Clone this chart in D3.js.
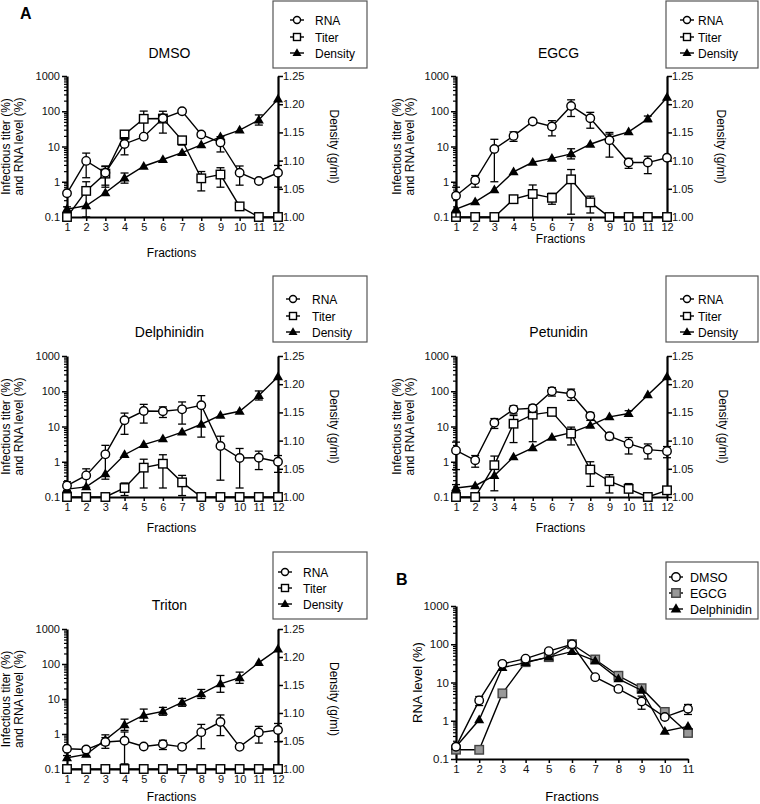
<!DOCTYPE html>
<html><head><meta charset="utf-8">
<script src="https://cdn.jsdelivr.net/npm/d3@7"></script>
<style>
body{margin:0;background:#fff;}
svg{display:block;font-family:"Liberation Sans",Arial,sans-serif;}
</style></head>
<body>
<svg id="chart" width="760" height="804"></svg>
<script>
// ---------- DATA ----------
const fractionsA = [1,2,3,4,5,6,7,8,9,10,11,12];
const fractionsB = [1,2,3,4,5,6,7,8,9,10,11];
const logTicks = [0.1,1,10,100,1000];
const densityTicks = [1.00,1.05,1.10,1.15,1.20,1.25];
const seriesNamesA = ["RNA","Titer","Density"];
const seriesNamesB = ["DMSO","EGCG","Delphinidin"];

const dmsoRNA      = [0.47,3.9,1.8,11.8,19,63,100,22,13,1.8,1.05,1.8];
const dmsoRNAErr   = [0,2.6,1.0,6,0,0,0,3,6,1,0,1.1];
const dmsoTiter    = [0.1,0.55,1.7,22,61,62,15,1.25,1.6,0.2,0.1,0.1];
const dmsoTiterErr = [0,0.45,1.0,6,40,38,4,0.7,0.9,0,0,0];
const dmsoDens     = [1.014,1.020,1.043,1.069,1.090,1.102,1.114,1.128,1.142,1.154,1.172,1.209];
const dmsoDensErr  = [0.004,0,0,0.009,0,0,0,0,0,0,0.009,0];

const egcgRNA      = [0.40,1.1,8.5,20,51,37,141,63,15,3.5,3.5,4.8];
const egcgRNAErr   = [0.3,0.4,7.5,6,0,17,70,30,10,1.1,1.8,0];
const egcgTiter    = [0.1,0.1,0.1,0.32,0.45,0.35,1.17,0.26,0.1,0.1,0.1,0.1];
const egcgTiterErr = [0,0,0,0.06,0.36,0.12,1.05,0.13,0,0,0,0];
const egcgDens     = [1.014,1.027,1.048,1.080,1.097,1.104,1.112,1.129,1.141,1.151,1.174,1.212];
const egcgDensErr  = [0,0,0,0,0,0,0.009,0,0.006,0,0.005,0];

const delphRNA      = [0.21,0.41,1.62,15,27.5,27,30.7,40,2.8,1.28,1.3,1.0];
const delphRNAErr   = [0.06,0.22,1.3,9,15,9,19,35,2.5,1.1,0.7,0.5];
const delphTiter    = [0.1,0.1,0.1,0.18,0.68,0.88,0.26,0.1,0.1,0.1,0.1,0.1];
const delphTiterErr = [0,0,0,0.07,0.5,0.7,0.15,0,0,0,0,0];
const delphDens     = [1.014,1.018,1.041,1.075,1.093,1.103,1.115,1.129,1.145,1.152,1.180,1.213];
const delphDensErr  = [0.005,0,0,0,0,0,0,0,0,0,0.008,0];

const petRNA      = [2.1,1.1,12.8,30.7,33,100,85,19.9,5.3,3.26,2.2,2.0];
const petRNAErr   = [1.5,0.4,4,8,8,27,30,5,1.1,1.6,1.0,0.7];
const petTiter    = [0.1,0.1,0.8,12,21.7,26,6.3,0.6,0.28,0.17,0.1,0.155];
const petTiterErr = [0,0,0.65,8.5,18,0,3.3,0.4,0.15,0.07,0,0.03];
const petDens     = [1.016,1.020,1.038,1.071,1.087,1.106,1.114,1.127,1.142,1.148,1.181,1.213];
const petDensErr  = [0.006,0,0,0,0,0,0.006,0,0,0.005,0,0];

const tritonRNA      = [0.38,0.36,0.59,0.64,0.44,0.51,0.43,1.13,2.2,0.43,1.1,1.3];
const tritonRNAErr   = [0.03,0.06,0.2,0.5,0,0.15,0,0.75,1.3,0,0.55,0.7];
const tritonTiter    = [0.1,0.1,0.1,0.1,0.1,0.1,0.1,0.1,0.1,0.1,0.1,0.1];
const tritonTiterErr = [0,0,0,0,0,0,0,0,0,0,0,0];
const tritonDens     = [1.020,1.026,1.052,1.079,1.096,1.103,1.119,1.134,1.152,1.163,1.190,1.214];
const tritonDensErr  = [0.004,0.003,0.009,0.01,0.011,0.007,0.007,0.008,0.015,0.01,0,0];

const bDMSO     = [0.21,3.4,30.7,42,66,100,13.8,6.8,3.2,1.25,2.06];
const bDMSOErr  = [0.03,0.9,0,0,8,0,0,0,1.2,0,0.6];
const bEGCG     = [0.175,0.174,5.2,34,46,100,40,15,7.1,1.7,0.48];
const bEGCGErr  = [0,0,0,0,0,0,0,0,0,0,0];
const bDelph    = [0.21,1.06,24.6,33,46,64,37,12.5,6.2,0.53,0.71];
const bDelphErr = [0,0,0,0,0,0,0,0,0,0,0];

// ---------- DRAW ----------
const svg = d3.select("#chart");
const FONT = "'Liberation Sans', Arial, sans-serif";

function marker(g, type, x, y, size, fill){
  if(type==="circle"){
    g.append("circle").attr("cx",x).attr("cy",y).attr("r",size/2)
      .attr("fill",fill).attr("stroke","#000").attr("stroke-width",1.4);
  } else if(type==="square"){
    g.append("rect").attr("x",x-size/2).attr("y",y-size/2).attr("width",size).attr("height",size)
      .attr("fill",fill).attr("stroke",fill==="#999"?"#444":"#000").attr("stroke-width",1.4);
  } else {
    const s=size*1.1;
    g.append("path").attr("d",d3.symbol().type(d3.symbolTriangle).size(s*s*0.45)())
      .attr("transform",`translate(${x},${y+0.5})`).attr("fill","#000");
  }
}

function drawSeries(g, xs, vals, errs, xScale, yScale, type, fill, yMin){
  xs.forEach((f,i)=>{
    const e=errs[i]; if(!e) return;
    const hi=vals[i]+e, lo=Math.max(vals[i]-e, yMin);
    const x=xScale(f);
    g.append("line").attr("x1",x).attr("x2",x).attr("y1",yScale(hi)).attr("y2",yScale(lo))
      .attr("stroke","#000").attr("stroke-width",1.3);
    [hi, (vals[i]-e>yMin? lo:null)].forEach(v=>{ if(v===null) return;
      g.append("line").attr("x1",x-4).attr("x2",x+4).attr("y1",yScale(v)).attr("y2",yScale(v))
        .attr("stroke","#000").attr("stroke-width",1.3);});
  });
  const line=d3.line().x((d,i)=>xScale(xs[i])).y(d=>yScale(d));
  g.append("path").attr("d",line(vals)).attr("fill","none").attr("stroke","#000").attr("stroke-width",1.4);
  xs.forEach((f,i)=>marker(g,type,xScale(f),yScale(vals[i]),type==="triangle"?9:8.5,fill));
}

function legend(x0,y0,w,h,items,ys,mOff,tOff,fs,ms){
  const g=svg.append("g");
  g.append("rect").attr("x",x0).attr("y",y0).attr("width",w).attr("height",h)
    .attr("fill","#fff").attr("stroke","#555").attr("stroke-width",1.2);
  items.forEach((it,i)=>{
    const y=ys[i];
    g.append("line").attr("x1",x0+mOff-7).attr("x2",x0+mOff+7).attr("y1",y).attr("y2",y)
      .attr("stroke","#000").attr("stroke-width",1.4);
    marker(g,it.type,x0+mOff,y,it.type==="triangle"?ms+1:ms,it.fill);
    g.append("text").attr("x",x0+tOff).attr("y",y+4.5).text(it.name)
      .attr("font-size",fs).attr("font-family",FONT);
  });
}

function fmtLog(d){ return d===0.1?"0.1":String(d); }

function panelA(cfg){
  const g=svg.append("g");
  const x=d3.scaleLinear().domain([1,12]).range([cfg.left,cfg.right]);
  const y=d3.scaleLog().domain([0.1,1000]).range([cfg.bottom,cfg.top]);
  const yd=d3.scaleLinear().domain([1.00,1.25]).range([cfg.bottom,cfg.top]);

  const minors=[];
  [0.1,1,10,100].forEach(b=>{for(let k=2;k<10;k++)minors.push(b*k);});
  g.append("g").attr("transform",`translate(${cfg.left},0)`)
    .call(d3.axisLeft(y).tickValues(minors).tickSize(3).tickFormat(""))
    .call(s=>s.select(".domain").remove())
    .call(s=>s.selectAll("line").attr("stroke-width",1.2));
  const la=g.append("g").attr("transform",`translate(${cfg.left},0)`)
    .call(d3.axisLeft(y).tickValues(logTicks).tickSize(5).tickSizeOuter(0).tickFormat(fmtLog));
  la.select(".domain").attr("stroke-width",2.2);
  la.selectAll("line").attr("stroke-width",1.5);
  la.selectAll("text").attr("font-size",11).attr("font-family",FONT).attr("dx","1").attr("fill","#111");

  const ra=g.append("g").attr("transform",`translate(${cfg.right},0)`)
    .call(d3.axisRight(yd).tickValues(densityTicks).tickSize(5).tickSizeOuter(0).tickFormat(d3.format(".2f")));
  ra.select(".domain").attr("stroke-width",2.2);
  ra.selectAll("line").attr("stroke-width",1.5);
  ra.selectAll("text").attr("font-size",11).attr("font-family",FONT).attr("dx","-3").attr("fill","#111");

  const xa=g.append("g").attr("transform",`translate(0,${cfg.bottom})`)
    .call(d3.axisBottom(x).tickValues(fractionsA).tickSize(4).tickSizeOuter(0).tickFormat(d3.format("d")));
  xa.select(".domain").attr("stroke-width",2.2);
  xa.selectAll("line").attr("stroke-width",1.5);
  xa.selectAll("text").attr("font-size",11).attr("font-family",FONT).attr("dy","0.6em").attr("fill","#111");

  drawSeries(g,fractionsA,cfg.dens,cfg.densErr,x,yd,"triangle","#000",1.0);
  drawSeries(g,fractionsA,cfg.titer,cfg.titerErr,x,y,"square","#fff",0.1);
  drawSeries(g,fractionsA,cfg.rna,cfg.rnaErr,x,y,"circle","#fff",0.1);

  const cx=(cfg.left+cfg.right)/2-3;
  g.append("text").attr("x",cx).attr("y",cfg.titleY).attr("text-anchor","middle")
    .attr("font-size",14).attr("font-family",FONT).text(cfg.title);
  g.append("text").attr("x",cx+2).attr("y",cfg.fracY).attr("text-anchor","middle")
    .attr("font-size",12).attr("font-family",FONT).text("Fractions");
  const my=(cfg.top+cfg.bottom)/2;
  const yl=g.append("text").attr("transform",`translate(${cfg.ylx},${my}) rotate(-90)`)
    .attr("text-anchor","middle").attr("font-size",12).attr("font-family",FONT);
  yl.append("tspan").attr("x",0).attr("dy",0).text("Infectious titer (%)");
  yl.append("tspan").attr("x",0).attr("dy",12.5).text("and RNA level (%)");
  g.append("text").attr("transform",`translate(${cfg.ryx},${my}) rotate(90)`)
    .attr("text-anchor","middle").attr("font-size",12).attr("font-family",FONT).text("Density (g/ml)");

  legend(cfg.lx,cfg.ly,cfg.lw,cfg.lh,
    [{name:seriesNamesA[0],type:"circle",fill:"#fff"},{name:seriesNamesA[1],type:"square",fill:"#fff"},{name:seriesNamesA[2],type:"triangle",fill:"#000"}],
    cfg.lys,cfg.mOff,cfg.tOff,12,7);
}

panelA({title:"DMSO",left:67,right:278,top:76,bottom:217,titleY:58,fracY:257,ylx:10,ryx:330,
  lx:273,ly:1,lw:94,lh:67,lys:[20,37,53],mOff:24,tOff:42,
  rna:dmsoRNA,rnaErr:dmsoRNAErr,titer:dmsoTiter,titerErr:dmsoTiterErr,dens:dmsoDens,densErr:dmsoDensErr});
panelA({title:"EGCG",left:456,right:667,top:76,bottom:217,titleY:58,fracY:243,ylx:401,ryx:717,
  lx:666,ly:1,lw:92,lh:67,lys:[20,37,53],mOff:21,tOff:32,
  rna:egcgRNA,rnaErr:egcgRNAErr,titer:egcgTiter,titerErr:egcgTiterErr,dens:egcgDens,densErr:egcgDensErr});
panelA({title:"Delphinidin",left:67,right:278,top:356,bottom:497,titleY:337,fracY:532,ylx:10,ryx:330,
  lx:273,ly:276,lw:94,lh:66,lys:[299,316,332],mOff:20,tOff:39,
  rna:delphRNA,rnaErr:delphRNAErr,titer:delphTiter,titerErr:delphTiterErr,dens:delphDens,densErr:delphDensErr});
panelA({title:"Petunidin",left:456,right:667,top:356,bottom:497,titleY:337,fracY:532,ylx:401,ryx:719,
  lx:666,ly:276,lw:92,lh:66,lys:[299,316,332],mOff:21,tOff:32,
  rna:petRNA,rnaErr:petRNAErr,titer:petTiter,titerErr:petTiterErr,dens:petDens,densErr:petDensErr});
panelA({title:"Triton",left:67,right:278,top:629,bottom:769,titleY:610,fracY:801,ylx:10,ryx:330,
  lx:273,ly:552,lw:94,lh:67,lys:[572,588,604],mOff:12,tOff:30,
  rna:tritonRNA,rnaErr:tritonRNAErr,titer:tritonTiter,titerErr:tritonTiterErr,dens:tritonDens,densErr:tritonDensErr});

// Panel B
(function(){
  const left=456,right=688,top=606,bottom=759;
  const g=svg.append("g");
  const x=d3.scaleLinear().domain([1,11]).range([left,right]);
  const y=d3.scaleLog().domain([0.1,1000]).range([bottom,top]);
  const minors=[];
  [0.1,1,10,100].forEach(b=>{for(let k=2;k<10;k++)minors.push(b*k);});
  g.append("g").attr("transform",`translate(${left},0)`)
    .call(d3.axisLeft(y).tickValues(minors).tickSize(3).tickFormat(""))
    .call(s=>s.select(".domain").remove())
    .call(s=>s.selectAll("line").attr("stroke-width",1.2));
  const la=g.append("g").attr("transform",`translate(${left},0)`)
    .call(d3.axisLeft(y).tickValues(logTicks).tickSize(5).tickSizeOuter(0).tickFormat(fmtLog));
  la.select(".domain").attr("stroke-width",2.2);
  la.selectAll("line").attr("stroke-width",1.5);
  la.selectAll("text").attr("font-size",11.5).attr("font-family",FONT).attr("dx","1").attr("fill","#111");
  const xa=g.append("g").attr("transform",`translate(0,${bottom})`)
    .call(d3.axisBottom(x).tickValues(fractionsB).tickSize(4).tickSizeOuter(0).tickFormat(d3.format("d")));
  xa.select(".domain").attr("stroke-width",2.2);
  xa.selectAll("line").attr("stroke-width",1.5);
  xa.selectAll("text").attr("font-size",11.5).attr("font-family",FONT).attr("dy","0.65em").attr("fill","#111");

  drawSeries(g,fractionsB,bEGCG,bEGCGErr,x,y,"square","#999",0.1);
  drawSeries(g,fractionsB,bDelph,bDelphErr,x,y,"triangle","#000",0.1);
  drawSeries(g,fractionsB,bDMSO,bDMSOErr,x,y,"circle","#fff",0.1);

  g.append("text").attr("x",(left+right)/2).attr("y",801).attr("text-anchor","middle")
    .attr("font-size",13).attr("font-family",FONT).text("Fractions");
  g.append("text").attr("transform",`translate(422,${(top+bottom)/2}) rotate(-90)`)
    .attr("text-anchor","middle").attr("font-size",13).attr("font-family",FONT).text("RNA level (%)");
  legend(666,562,92,57,
    [{name:seriesNamesB[0],type:"circle",fill:"#fff"},{name:seriesNamesB[1],type:"square",fill:"#999"},{name:seriesNamesB[2],type:"triangle",fill:"#000"}],
    [577,593,609],10,24,12.5,8.5);
})();

svg.append("text").attr("x",20).attr("y",19).attr("font-size",16).attr("font-weight","bold")
  .attr("font-family",FONT).text("A");
svg.append("text").attr("x",396).attr("y",585).attr("font-size",16).attr("font-weight","bold")
  .attr("font-family",FONT).text("B");
</script>
</body></html>
